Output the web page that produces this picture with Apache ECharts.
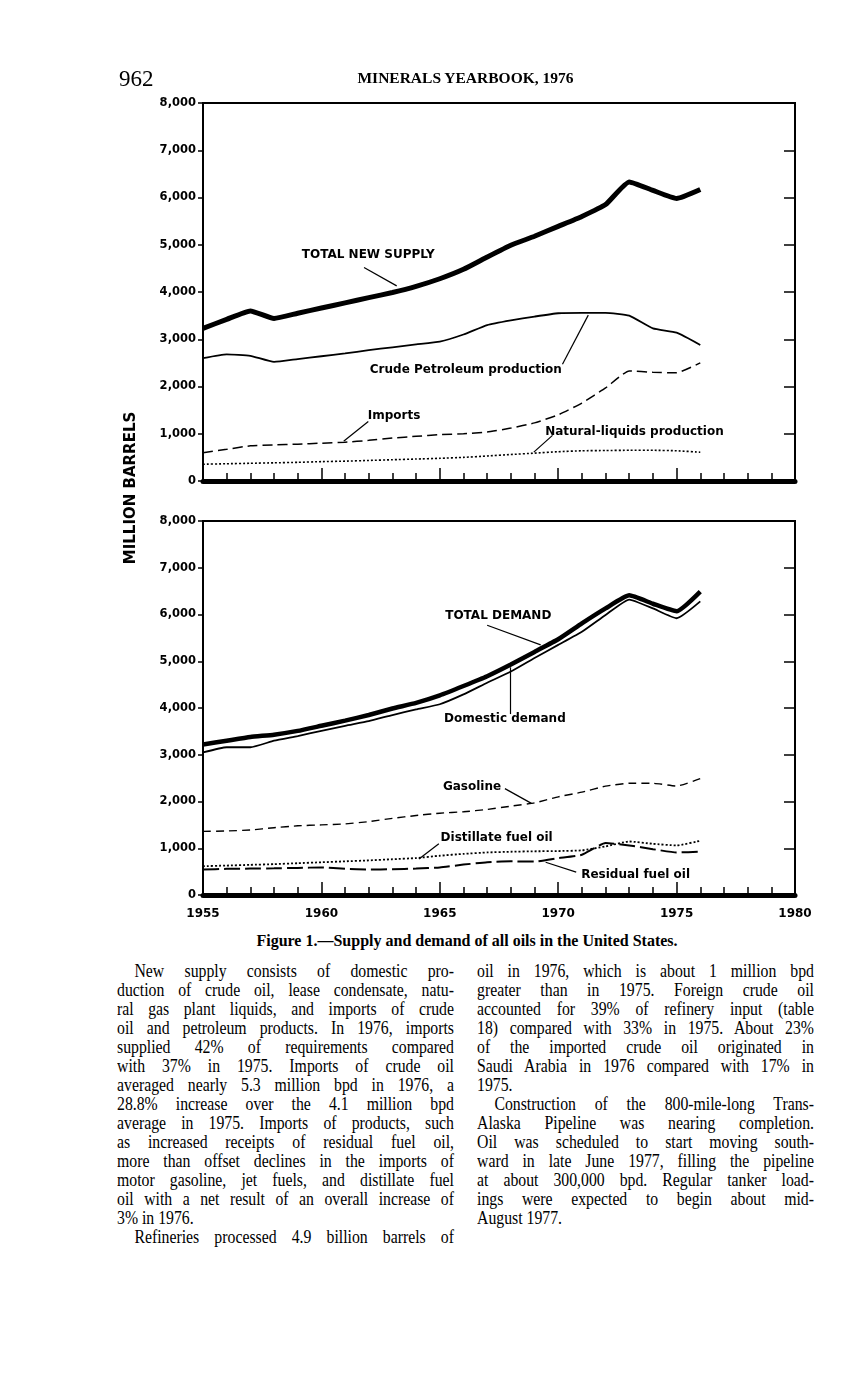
<!DOCTYPE html>
<html><head><meta charset="utf-8">
<script src="https://cdn.jsdelivr.net/npm/echarts@6/dist/echarts.min.js"></script>
<style>
html,body{margin:0;padding:0;background:#fff;width:854px;height:1380px;overflow:hidden}
#chart{position:absolute;left:0;top:0;width:854px;height:930px;z-index:1}
.t{position:absolute;font-family:'Liberation Serif',serif;color:#000;white-space:nowrap;z-index:2}
.col{position:absolute;width:406px;font-family:'Liberation Serif',serif;font-size:19px;line-height:19px;color:#000;transform:scaleX(0.83);transform-origin:0 0;z-index:2}
.col div{text-align:justify;text-align-last:justify;white-space:nowrap}
.col div.end{text-align-last:left}
.col div.ind{text-indent:21px}
</style></head>
<body>
<div id="chart"></div>
<div class="t" style="left:119px;top:65px;font-size:23px;line-height:27px">962</div>
<div class="t" style="left:0;width:931px;top:68px;font-size:15.5px;line-height:20px;font-weight:bold;text-align:center">MINERALS YEARBOOK, 1976</div>
<div class="t" style="left:0;width:934px;top:931px;font-size:16px;line-height:20px;font-weight:bold;text-align:center">Figure 1.—Supply and demand of all oils in the United States.</div>
<div class="col" id="left" style="left:117px;top:961px"></div>
<div class="col" id="right" style="left:477px;top:961px"></div>
<script>
// ---------- data ----------
const years = [1955,1956,1957,1958,1959,1960,1961,1962,1963,1964,1965,1966,1967,1968,1969,1970,1971,1972,1973,1974,1975,1976];
const totalNewSupply = [3230,3420,3600,3440,3550,3660,3770,3880,3990,4120,4280,4480,4740,4990,5180,5390,5600,5850,6330,6150,5980,6170];
const crudeProduction = [2600,2680,2650,2520,2580,2640,2700,2770,2830,2890,2950,3100,3300,3400,3480,3550,3560,3560,3500,3230,3140,2880];
const imports = [600,670,745,765,780,800,820,860,910,945,980,1000,1035,1120,1230,1400,1650,1970,2330,2300,2290,2500];
const naturalLiquids = [355,365,375,385,395,410,420,435,450,465,480,500,530,560,590,620,640,645,650,650,640,610];
const totalDemand = [3220,3300,3380,3430,3510,3620,3730,3850,3990,4110,4270,4470,4680,4930,5200,5470,5810,6130,6410,6230,6070,6490];
const domesticDemand = [3050,3160,3160,3300,3400,3510,3620,3720,3850,3970,4080,4290,4540,4780,5070,5350,5630,5990,6320,6130,5920,6280];
const gasoline = [1360,1370,1390,1440,1480,1500,1520,1570,1640,1700,1750,1780,1830,1900,1970,2100,2200,2330,2390,2390,2330,2490];
const distillate = [615,630,645,660,680,700,720,740,765,790,840,880,910,925,935,940,955,1040,1145,1095,1060,1160];
const residual = [545,560,565,570,580,590,560,545,550,565,590,650,700,720,715,790,860,1110,1060,980,910,925];
const yTicks = [0,1000,2000,3000,4000,5000,6000,7000,8000];
const xTicks = [1955,1960,1965,1970,1975,1980];

// annotations: [label, [textYear, textValue], [arrowFromYear, fromValue], [arrowToYear, toValue]]
const annTotalSupply = ['TOTAL NEW SUPPLY', [1961.98, 4790], [1961.8, 4520], [1963.18, 4130]];
const annCrude = ['Crude Petroleum production', [1966.1, 2360], [1970.18, 2470], [1971.27, 3510]];
const annImports = ['Imports', [1963.07, 1370], [1961.98, 1260], [1960.94, 840]];
const annNatural = ['Natural-liquids production', [1973.22, 1035], [1969.76, 965], [1968.97, 610]];
const annTotalDemand = ['TOTAL DEMAND', [1967.47, 5970], [1967.0, 5770], [1969.26, 5350]];
const annDomestic = ['Domestic demand', [1967.75, 3760], [1967.97, 3870], [1967.97, 4870]];
const annGasoline = ['Gasoline', [1966.36, 2310], [1967.75, 2275], [1968.87, 1960]];
const annDistillate = ['Distillate fuel oil', [1967.4, 1215], [1964.96, 1095], [1964.12, 770]];
const annResidual = ['Residual fuel oil', [1973.27, 440], [1970.76, 490], [1969.47, 700]];

// ---------- body text ----------
const leftLines = [
 ['ind','New supply consists of domestic pro-'],
 ['','duction of crude oil, lease condensate, natu-'],
 ['','ral gas plant liquids, and imports of crude'],
 ['','oil and petroleum products. In 1976, imports'],
 ['','supplied 42% of requirements compared'],
 ['','with 37% in 1975. Imports of crude oil'],
 ['','averaged nearly 5.3 million bpd in 1976, a'],
 ['','28.8% increase over the 4.1 million bpd'],
 ['','average in 1975. Imports of products, such'],
 ['','as increased receipts of residual fuel oil,'],
 ['','more than offset declines in the imports of'],
 ['','motor gasoline, jet fuels, and distillate fuel'],
 ['','oil with a net result of an overall increase of'],
 ['end','3% in 1976.'],
 ['ind','Refineries processed 4.9 billion barrels of']
];
const rightLines = [
 ['','oil in 1976, which is about 1 million bpd'],
 ['','greater than in 1975. Foreign crude oil'],
 ['','accounted for 39% of refinery input (table'],
 ['','18) compared with 33% in 1975. About 23%'],
 ['','of the imported crude oil originated in'],
 ['','Saudi Arabia in 1976 compared with 17% in'],
 ['end','1975.'],
 ['ind','Construction of the 800-mile-long Trans-'],
 ['','Alaska Pipeline was nearing completion.'],
 ['','Oil was scheduled to start moving south-'],
 ['','ward in late June 1977, filling the pipeline'],
 ['','at about 300,000 bpd. Regular tanker load-'],
 ['','ings were expected to begin about mid-'],
 ['end','August 1977.']
];
function fillCol(id, lines){
  const el = document.getElementById(id);
  lines.forEach(([cls, txt]) => { const d = document.createElement('div'); if (cls) d.className = cls; d.textContent = txt; el.appendChild(d); });
}
fillCol('left', leftLines); fillCol('right', rightLines);

// ---------- chart ----------
const FONT = 'DejaVu Sans';
const pairs = arr => years.map((y, i) => [y, arr[i]]);

function xAxis(gi, showLabels){
  return {type:'value', gridIndex:gi, min:1955, max:1980, interval:5,
    axisLine:{show:true, onZero:false, lineStyle:{color:'#000', width:5}},
    axisTick:{show:true, inside:true, length:13, lineStyle:{color:'#000', width:1.5}},
    minorTick:{show:true, splitNumber:5, length:8, lineStyle:{color:'#000', width:1.5}},
    axisLabel:{show:showLabels, margin:13, color:'#000', fontFamily:FONT, fontWeight:'bold', fontSize:12,
      formatter: v => xTicks.includes(v) ? String(v) : ''},
    splitLine:{show:false}, minorSplitLine:{show:false}};
}
function yLeft(gi){
  return {type:'value', gridIndex:gi, min:yTicks[0], max:yTicks[yTicks.length-1], interval:1000, position:'left',
    axisLine:{show:true, lineStyle:{color:'#000', width:2}},
    axisTick:{show:true, inside:false, length:5, lineStyle:{color:'#000', width:1.5}},
    axisLabel:{margin:7, color:'#000', fontFamily:FONT, fontWeight:'bold', fontSize:11.5,
      formatter: v => v.toLocaleString('en-US')},
    splitLine:{show:false}};
}
function yRight(gi){
  return {type:'value', gridIndex:gi, min:yTicks[0], max:yTicks[yTicks.length-1], interval:1000, position:'right',
    axisLine:{show:true, lineStyle:{color:'#000', width:2}},
    axisTick:{show:true, inside:true, length:11, lineStyle:{color:'#000', width:1.5}},
    axisLabel:{show:false}, splitLine:{show:false}};
}
function ann(a){
  return {
    markPoint:{silent:true, animation:false, symbol:'circle', symbolSize:0, itemStyle:{color:'rgba(0,0,0,0)'},
      label:{show:true, position:'inside', color:'#000', fontFamily:FONT, fontWeight:'bold', fontSize:12, formatter:a[0]},
      data:[{coord:a[1]}]},
    markLine:{silent:true, animation:false, symbol:['none','arrow'], symbolSize:[0,8],
      lineStyle:{color:'#000', width:1.2, type:'solid'}, label:{show:false},
      data:[[{coord:a[2]},{coord:a[3]}]]}
  };
}
function line(name, data, xi, yi, style, a){
  return Object.assign({type:'line', name, data:pairs(data), xAxisIndex:xi, yAxisIndex:yi,
    showSymbol:false, symbol:'none', smooth:0.15, lineStyle:Object.assign({color:'#000'}, style),
    emphasis:{disabled:true}, z:3}, a ? ann(a) : {});
}

const chart = echarts.init(document.getElementById('chart'), null, {renderer:'canvas'});
chart.setOption({
  animation:false,
  backgroundColor:'transparent',
  grid:[
    {left:203, right:59, top:103, height:378, show:true, borderColor:'#000', borderWidth:2, backgroundColor:'transparent'},
    {left:203, right:59, top:521, height:374, show:true, borderColor:'#000', borderWidth:2, backgroundColor:'transparent'}
  ],
  xAxis:[xAxis(0,false), xAxis(1,true)],
  yAxis:[yLeft(0), yRight(0), yLeft(1), yRight(1)],
  graphic:[{type:'text', x:131, y:488, rotation:Math.PI/2,
    style:{text:'MILLION BARRELS', fill:'#000', font:'bold 15px "DejaVu Sans"', textAlign:'center', textVerticalAlign:'middle'}}],
  series:[
    line('Total new supply', totalNewSupply, 0, 0, {width:5}, annTotalSupply),
    line('Crude petroleum production', crudeProduction, 0, 0, {width:1.8}, annCrude),
    line('Imports', imports, 0, 0, {width:1.5, type:[10,5]}, annImports),
    line('Natural-liquids production', naturalLiquids, 0, 0, {width:1.6, type:[2,2]}, annNatural),
    line('Total demand', totalDemand, 1, 2, {width:4.5}, annTotalDemand),
    line('Domestic demand', domesticDemand, 1, 2, {width:1.8}, annDomestic),
    line('Gasoline', gasoline, 1, 2, {width:1.4, type:[8,5]}, annGasoline),
    line('Distillate fuel oil', distillate, 1, 2, {width:1.8, type:[2,2]}, annDistillate),
    line('Residual fuel oil', residual, 1, 2, {width:2, type:[16,5]}, annResidual)
  ]
});
</script>
</body></html>
